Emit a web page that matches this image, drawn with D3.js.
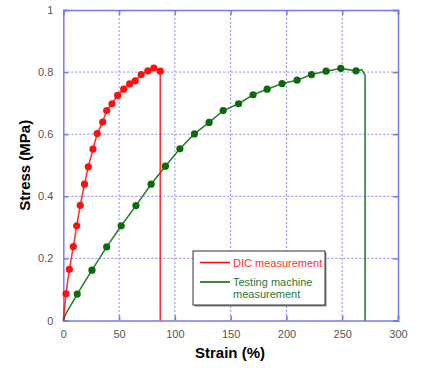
<!DOCTYPE html>
<html>
<head>
<meta charset="utf-8">
<script src="https://cdn.jsdelivr.net/npm/d3@7"></script>
<style>
  body { margin: 0; background: #fff; }
  svg { font-family: "Liberation Sans", Arial, sans-serif; }
</style>
</head>
<body>
<svg id="chart"></svg>
<script>
var width = 428;
var height = 368;

// DIC measurement markers (strain %, stress MPa)
var dicStrain = [0, 2.4, 5.4, 9.0, 12.0, 15.2, 19.0, 22.4, 26.6, 30.4, 35.3, 38.9, 43.6, 48.7, 54.1, 59.5, 64.5, 69.8, 75.8, 81.2, 86.9];
var dicStress = [0, 0.086, 0.165, 0.238, 0.305, 0.371, 0.439, 0.495, 0.552, 0.602, 0.639, 0.676, 0.698, 0.725, 0.745, 0.762, 0.772, 0.792, 0.804, 0.813, 0.803];
// drop after failure
var dicTailStrain = [86.9, 86.9];
var dicTailStress = [0.803, 0];

// Testing machine markers
var tmStrain = [12.5, 25.7, 38.9, 51.9, 65.1, 78.7, 91.5, 104.5, 117.5, 130.7, 143.3, 157.1, 170.1, 182.7, 196.1, 209.6, 222.5, 235.5, 248.7, 262.4];
var tmStress = [0.085, 0.162, 0.237, 0.305, 0.370, 0.439, 0.497, 0.553, 0.601, 0.638, 0.676, 0.698, 0.727, 0.745, 0.763, 0.774, 0.792, 0.803, 0.812, 0.804];
// raw line start and end (no markers there)
var tmHeadStrain = [0, 2];
var tmHeadStress = [0, 0.02];
var tmTailStrain = [262.4, 267.5, 270.5, 270.5];
var tmTailStress = [0.804, 0.808, 0.79, 0];

var xTicks = [0, 50, 100, 150, 200, 250, 300];
var yTicks = [0, 0.2, 0.4, 0.6, 0.8, 1];

var pLeft = 63.3, pRight = 398, pTop = 10, pBottom = 320.5;

var svg = d3.select("#chart")
    .attr("width", width)
    .attr("height", height);

var x = d3.scaleLinear().domain([0, 300]).range([pLeft, pRight]);
var y = d3.scaleLinear().domain([0, 1]).range([pBottom, pTop]);

function pairs(xs, ys) {
    return xs.map(function(v, i) { return [v, ys[i]]; });
}

// grid
svg.append("g")
    .selectAll("line")
    .data(xTicks.slice(1, -1))
    .enter()
    .append("line")
    .attr("x1", function(d) { return x(d); })
    .attr("x2", function(d) { return x(d); })
    .attr("y1", pTop)
    .attr("y2", pBottom)
    .attr("stroke", "#8c8cf0")
    .attr("stroke-width", 1)
    .attr("stroke-dasharray", "2,2");

svg.append("g")
    .selectAll("line")
    .data(yTicks.slice(1, -1))
    .enter()
    .append("line")
    .attr("x1", pLeft)
    .attr("x2", pRight)
    .attr("y1", function(d) { return y(d); })
    .attr("y2", function(d) { return y(d); })
    .attr("stroke", "#8c8cf0")
    .attr("stroke-width", 1)
    .attr("stroke-dasharray", "2,2");

// axes with inward ticks
svg.append("g")
    .attr("transform", "translate(0," + pBottom + ")")
    .call(d3.axisBottom(x).tickValues(xTicks).tickSize(-5).tickPadding(10).tickFormat(d3.format("d")));
svg.append("g")
    .attr("transform", "translate(" + pLeft + ",0)")
    .call(d3.axisLeft(y).tickValues(yTicks).tickSize(-5).tickPadding(10).tickFormat(function(d) { return d === 0 || d === 1 ? d : d.toFixed(1); }));
svg.append("g")
    .attr("transform", "translate(0," + pTop + ")")
    .call(d3.axisTop(x).tickValues(xTicks).tickSize(-5).tickFormat(""));
svg.append("g")
    .attr("transform", "translate(" + pRight + ",0)")
    .call(d3.axisRight(y).tickValues(yTicks).tickSize(-5).tickFormat(""));

svg.selectAll(".domain").attr("stroke", "#7a7af0").attr("stroke-width", 1.5);
svg.selectAll(".tick line").attr("stroke", "#7a7af0").attr("stroke-width", 1.5);
svg.selectAll(".tick text")
    .attr("fill", "#555")
    .style("font-size", "11px");

// axis titles
svg.append("text")
    .attr("x", 230)
    .attr("y", 358)
    .attr("text-anchor", "middle")
    .style("font-size", "15px")
    .style("font-weight", "bold")
    .text("Strain (%)");

svg.append("text")
    .attr("transform", "translate(30," + ((pTop + pBottom) / 2) + ") rotate(-90)")
    .attr("text-anchor", "middle")
    .style("font-size", "15px")
    .style("font-weight", "bold")
    .text("Stress (MPa)");

var line = d3.line()
    .x(function(d) { return x(d[0]); })
    .y(function(d) { return y(d[1]); });

var red = "#ff1010";
var green = "#0b6a0b";

// green series
var tmLine = pairs(tmHeadStrain, tmHeadStress)
    .concat(pairs(tmStrain, tmStress))
    .concat(pairs(tmTailStrain, tmTailStress).slice(1));
svg.append("path")
    .attr("d", line(tmLine))
    .attr("fill", "none")
    .attr("stroke", green)
    .attr("stroke-width", 1.6)
    .attr("opacity", 0.85);
svg.append("g")
    .selectAll("circle")
    .data(pairs(tmStrain, tmStress))
    .enter()
    .append("circle")
    .attr("cx", function(d) { return x(d[0]); })
    .attr("cy", function(d) { return y(d[1]); })
    .attr("r", 3.6)
    .attr("fill", green);

// red series
var dicLine = pairs(dicStrain, dicStress).concat(pairs(dicTailStrain, dicTailStress).slice(1));
svg.append("path")
    .attr("d", line(dicLine))
    .attr("fill", "none")
    .attr("stroke", red)
    .attr("stroke-width", 1.6)
    .attr("opacity", 0.85);
svg.append("g")
    .selectAll("circle")
    .data(pairs(dicStrain, dicStress).slice(1))
    .enter()
    .append("circle")
    .attr("cx", function(d) { return x(d[0]); })
    .attr("cy", function(d) { return y(d[1]); })
    .attr("r", 3.6)
    .attr("fill", red);

// legend
var lg = svg.append("g").attr("transform", "translate(193,251)");
lg.append("rect")
    .attr("x", 1.5).attr("y", 1.5)
    .attr("width", 132).attr("height", 54)
    .attr("fill", "#888");
lg.append("rect")
    .attr("width", 132).attr("height", 54)
    .attr("fill", "#fff")
    .attr("stroke", "#333")
    .attr("stroke-width", 1);
lg.append("line")
    .attr("x1", 7).attr("x2", 37).attr("y1", 11.5).attr("y2", 11.5)
    .attr("stroke", red).attr("stroke-width", 1.6);
lg.append("text")
    .attr("x", 40).attr("y", 15.5)
    .attr("fill", "#ff3030")
    .style("font-size", "11px")
    .text("DIC measurement");
lg.append("line")
    .attr("x1", 7).attr("x2", 37).attr("y1", 31).attr("y2", 31)
    .attr("stroke", green).attr("stroke-width", 1.6);
lg.append("text")
    .attr("x", 40).attr("y", 35)
    .attr("fill", "#2a7a3a")
    .style("font-size", "11px")
    .text("Testing machine");
lg.append("text")
    .attr("x", 40).attr("y", 47)
    .attr("fill", "#2a7a3a")
    .style("font-size", "11px")
    .text("measurement");
</script>
</body>
</html>
